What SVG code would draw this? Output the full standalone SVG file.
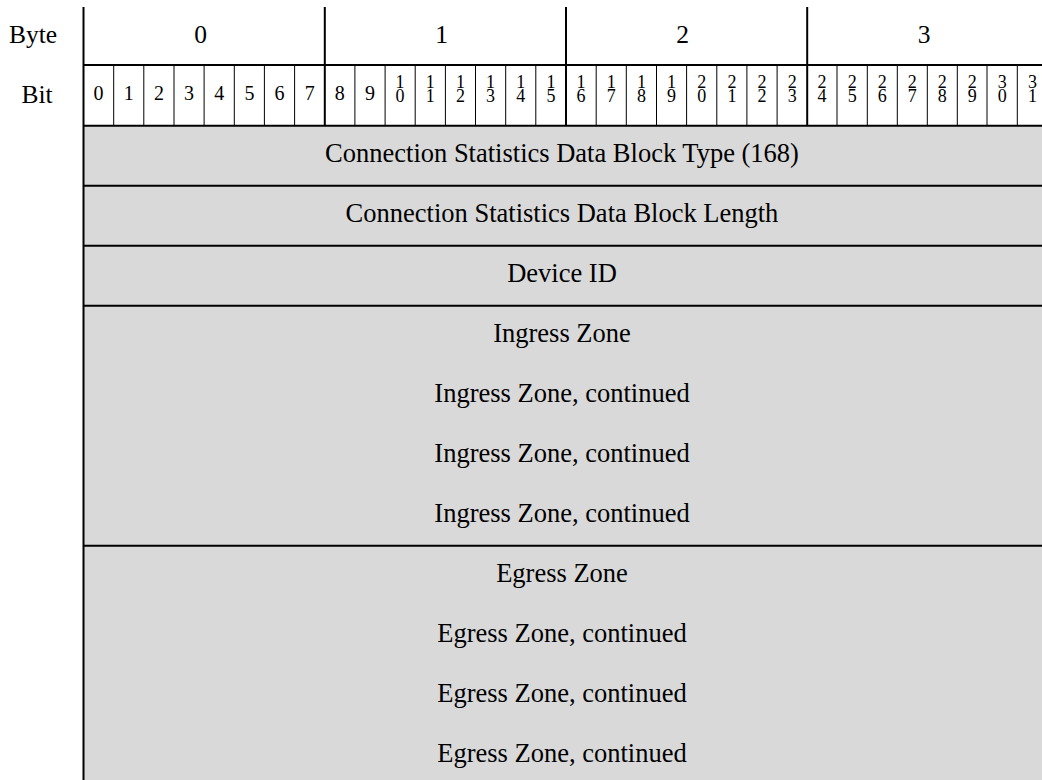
<svg xmlns="http://www.w3.org/2000/svg" width="1042" height="780" viewBox="0 0 1042 780">
<style>
text{font-family:"Liberation Serif","Times New Roman",serif;fill:#000;text-anchor:middle}
.big{font-size:26.5px}
.lbl{font-size:25.5px}
.d1{font-size:20px}
.d2{font-size:18px}
.thick{stroke:#000;stroke-width:2;fill:none}
.thin{stroke:#000;stroke-width:1;fill:none}
.fill{fill:#d9d9d9}
</style>
<rect width="1042" height="780" fill="#fff"/>
<g id="header-labels">
<text class="lbl" x="33" y="43">Byte</text>
<text class="lbl" x="37" y="103">Bit</text>
</g>
<g id="byte-row">
<text class="lbl" x="200.5" y="43">0</text>
<text class="lbl" x="441.5" y="43">1</text>
<text class="lbl" x="682.5" y="43">2</text>
<text class="lbl" x="924" y="43">3</text>
</g>
<g id="fields">
<rect class="fill" x="83.5" y="125.7" width="970" height="660"/>
<g id="f-type"><text class="big" x="562" y="162">Connection Statistics Data Block Type (168)</text></g>
<g id="f-length"><text class="big" x="562" y="222">Connection Statistics Data Block Length</text></g>
<g id="f-device"><text class="big" x="562" y="282">Device ID</text></g>
<g id="f-ingress">
<text class="big" x="562" y="342">Ingress Zone</text>
<text class="big" x="562" y="402">Ingress Zone, continued</text>
<text class="big" x="562" y="462">Ingress Zone, continued</text>
<text class="big" x="562" y="522">Ingress Zone, continued</text>
</g>
<g id="f-egress">
<text class="big" x="562" y="582">Egress Zone</text>
<text class="big" x="562" y="642">Egress Zone, continued</text>
<text class="big" x="562" y="702">Egress Zone, continued</text>
<text class="big" x="562" y="762">Egress Zone, continued</text>
</g>
</g>
<g id="bit-row">
<text class="d1" x="98.6" y="100">0</text>
<text class="d1" x="128.7" y="100">1</text>
<text class="d1" x="158.9" y="100">2</text>
<text class="d1" x="189" y="100">3</text>
<text class="d1" x="219.2" y="100">4</text>
<text class="d1" x="249.4" y="100">5</text>
<text class="d1" x="279.5" y="100">6</text>
<text class="d1" x="309.7" y="100">7</text>
<text class="d1" x="339.8" y="100">8</text>
<text class="d1" x="370" y="100">9</text>
<text class="d2" x="400.1" y="88">1<tspan x="400.1" y="101.5">0</tspan></text>
<text class="d2" x="430.3" y="88">1<tspan x="430.3" y="101.5">1</tspan></text>
<text class="d2" x="460.5" y="88">1<tspan x="460.5" y="101.5">2</tspan></text>
<text class="d2" x="490.6" y="88">1<tspan x="490.6" y="101.5">3</tspan></text>
<text class="d2" x="520.8" y="88">1<tspan x="520.8" y="101.5">4</tspan></text>
<text class="d2" x="550.9" y="88">1<tspan x="550.9" y="101.5">5</tspan></text>
<text class="d2" x="581.1" y="88">1<tspan x="581.1" y="101.5">6</tspan></text>
<text class="d2" x="611.2" y="88">1<tspan x="611.2" y="101.5">7</tspan></text>
<text class="d2" x="641.4" y="88">1<tspan x="641.4" y="101.5">8</tspan></text>
<text class="d2" x="671.5" y="88">1<tspan x="671.5" y="101.5">9</tspan></text>
<text class="d2" x="701.7" y="88">2<tspan x="701.7" y="101.5">0</tspan></text>
<text class="d2" x="731.9" y="88">2<tspan x="731.9" y="101.5">1</tspan></text>
<text class="d2" x="762" y="88">2<tspan x="762" y="101.5">2</tspan></text>
<text class="d2" x="792.2" y="88">2<tspan x="792.2" y="101.5">3</tspan></text>
<text class="d2" x="822.1" y="88">2<tspan x="822.1" y="101.5">4</tspan></text>
<text class="d2" x="852.2" y="88">2<tspan x="852.2" y="101.5">5</tspan></text>
<text class="d2" x="882.3" y="88">2<tspan x="882.3" y="101.5">6</tspan></text>
<text class="d2" x="912.3" y="88">2<tspan x="912.3" y="101.5">7</tspan></text>
<text class="d2" x="942.3" y="88">2<tspan x="942.3" y="101.5">8</tspan></text>
<text class="d2" x="972.2" y="88">2<tspan x="972.2" y="101.5">9</tspan></text>
<text class="d2" x="1002.2" y="88">3<tspan x="1002.2" y="101.5">0</tspan></text>
<text class="d2" x="1032.5" y="88">3<tspan x="1032.5" y="101.5">1</tspan></text>
</g>
<g id="connectors">
<path class="thin" d="M113.7 65V125.7M143.8 65V125.7M174 65V125.7M204.1 65V125.7M234.3 65V125.7M264.4 65V125.7M294.6 65V125.7M354.9 65V125.7M385.1 65V125.7M415.2 65V125.7M445.4 65V125.7M475.5 65V125.7M505.7 65V125.7M535.8 65V125.7M596.2 65V125.7M626.3 65V125.7M656.5 65V125.7M686.6 65V125.7M716.8 65V125.7M746.9 65V125.7M777.1 65V125.7M837 65V125.7M867.3 65V125.7M897.3 65V125.7M927.3 65V125.7M957.3 65V125.7M987 65V125.7M1017.3 65V125.7"/>
<path class="thick" d="M83.5 7V780M324.8 7V125.7M566 7V125.7M807.2 7V125.7M83.5 65H1042M83.5 125.7H1042M83.5 185.7H1042M83.5 245.7H1042M83.5 305.7H1042M83.5 545.7H1042"/>
</g>
</svg>
